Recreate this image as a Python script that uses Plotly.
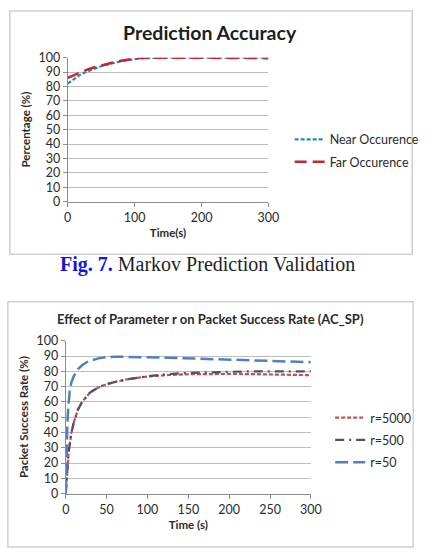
import plotly.graph_objects as go

W, H = 429, 557

# ---- Top chart data ----
time_top = [0, 10, 20, 30, 40, 50, 60, 70, 80, 90, 100, 110, 120, 130, 140, 150,
            175, 200, 225, 250, 275, 300]
near_occ = [82, 85.5, 88.5, 90.5, 92.5, 94, 95.3, 96.5, 97.5, 98.3, 99, 99.5, 99.7, 99.9, 100, 100,
            100, 100, 100, 100, 100, 100]
far_occ = [86, 88, 90, 91.8, 93.3, 94.6, 95.8, 96.9, 97.8, 98.7, 99.4, 99.9, 100, 100, 100, 100,
           100, 100, 100, 100, 100, 99.6]

# ---- Bottom chart data ----
time_bot = [0, 1, 2, 3, 4, 5, 7, 10, 15, 20, 25, 30, 40, 50, 60, 75, 100, 125, 150, 175,
            200, 225, 250, 275, 300]
r5000 = [0, 10, 18, 24, 29, 33, 40, 47, 55, 60, 63.5, 66.3, 69.5, 71.6, 73, 74.8, 76.6,
         77.6, 78.1, 78.3, 78.3, 78.2, 78, 77.8, 77.5]
r500 = [0, 10, 18, 24, 29, 33, 40, 47, 55, 60, 63.5, 66.3, 69.5, 71.6, 73, 74.8, 76.8,
        78.2, 79.0, 79.5, 79.8, 80, 80, 80, 80]
r50 = [0, 28, 45, 56, 63, 68, 73, 77, 81.5, 84, 85.8, 87, 88.5, 89.3, 89.6, 89.6, 89.2,
       88.9, 88.5, 88, 87.5, 87.2, 86.8, 86.4, 86]

y_ticks = list(range(0, 101, 10))
x_ticks_top = [0, 100, 200, 300]
x_ticks_bot = [0, 50, 100, 150, 200, 250, 300]

FONT = "Lato"
GRID = "#BDBDBD"
AXL = "#8C8C8C"


def px(x):
    return x / W


def py(y):
    return 1 - y / H


fig = go.Figure()

fig.add_trace(go.Scatter(x=time_top, y=near_occ, mode="lines", name="Near Occurence",
                         line=dict(color="#2E86C1", width=2.2, dash="4px,2px"),
                         xaxis="x", yaxis="y", legend="legend", legendgroup="near"))
fig.add_trace(go.Scatter(x=time_top, y=far_occ, mode="lines", name="Far Occurence",
                         line=dict(color="#C0282D", width=2.5, dash="12px,6px"),
                         xaxis="x", yaxis="y", legend="legend", legendgroup="far"))

fig.add_trace(go.Scatter(x=time_bot, y=r5000, mode="lines", name="r=5000",
                         line=dict(color="#C0504D", width=2.2, dash="4px,2px"),
                         xaxis="x2", yaxis="y2", legend="legend2", legendgroup="a"))
fig.add_trace(go.Scatter(x=time_bot, y=r500, mode="lines", name="r=500",
                         line=dict(color="#4F4F6E", width=2.2, dash="9px,5px,2px,5px"),
                         xaxis="x2", yaxis="y2", legend="legend2", legendgroup="b"))
fig.add_trace(go.Scatter(x=time_bot, y=r50, mode="lines", name="r=50",
                         line=dict(color="#4F81BD", width=2.5, dash="13px,5px"),
                         xaxis="x2", yaxis="y2", legend="legend2", legendgroup="c"))

tickfont = dict(family=FONT, size=12.5, color="#2A2A2A")
axtitlefont = dict(family=FONT, size=11.5, color="#2A2A2A")


def xaxis(domain, anchor, ticks, title):
    return dict(domain=domain, anchor=anchor, range=[0, 300], tickvals=ticks,
                showgrid=False, showline=True, linecolor=AXL, linewidth=1,
                ticks="outside", ticklen=4, tickcolor=AXL, tickfont=tickfont,
                title=dict(text="<b>" + title + "</b>", font=axtitlefont, standoff=5),
                zeroline=False, fixedrange=True)


def yaxis(domain, anchor, title):
    return dict(domain=domain, anchor=anchor, range=[0, 100], tickvals=y_ticks,
                showgrid=True, gridcolor=GRID, gridwidth=1,
                showline=True, linecolor=AXL, linewidth=1,
                ticks="outside", ticklen=4, tickcolor=AXL, tickfont=tickfont,
                title=dict(text="<b>" + title + "</b>", font=axtitlefont, standoff=5),
                zeroline=False, fixedrange=True)


fig.update_layout(
    width=W, height=H,
    margin=dict(l=0, r=0, t=0, b=0),
    paper_bgcolor="white", plot_bgcolor="white",
    xaxis=xaxis([px(66), px(274)], "y", x_ticks_top, "Time(s)"),
    yaxis=yaxis([py(199), py(51)], "x", "Percentage (%)"),
    xaxis2=xaxis([px(64), px(318)], "y2", x_ticks_bot, "Time (s)"),
    yaxis2=yaxis([py(499), py(342)], "x2", "Packet Success Rate (%)"),
    legend=dict(x=px(296), y=py(120), xanchor="left", yanchor="top",
                font=dict(family=FONT, size=12.5, color="#2A2A2A"),
                bgcolor="rgba(0,0,0,0)", tracegroupgap=3, traceorder="grouped",
                itemwidth=30),
    legend2=dict(x=px(338), y=py(406), xanchor="left", yanchor="top",
                 font=dict(family=FONT, size=12.5, color="#2A2A2A"),
                 bgcolor="rgba(0,0,0,0)", tracegroupgap=3, traceorder="grouped",
                 itemwidth=30),
    showlegend=True,
    shapes=[
        dict(type="rect", xref="paper", yref="paper", x0=px(6), x1=px(423), y0=py(253), y1=py(3),
             line=dict(color="#D0D0D0", width=1.5)),
        dict(type="rect", xref="paper", yref="paper", x0=px(4), x1=px(424), y0=py(554), y1=py(302),
             line=dict(color="#D0D0D0", width=1.5)),
    ],
    annotations=[
        dict(text="<b>Prediction Accuracy</b>", x=px(213), y=py(25), xref="paper", yref="paper",
             showarrow=False, xanchor="center", yanchor="middle",
             font=dict(family=FONT, size=19.5, color="#1E1E1E")),
        dict(text="<b>Effect of Parameter r on Packet Success Rate (AC_SP)</b>",
             x=px(214), y=py(320), xref="paper", yref="paper",
             showarrow=False, xanchor="center", yanchor="middle",
             font=dict(family=FONT, size=13, color="#2A2A2A")),
        dict(text="<b><span style='color:#1515E0'>Fig. 7.</span></b> Markov Prediction Validation",
             x=px(211), y=py(264), xref="paper", yref="paper",
             showarrow=False, xanchor="center", yanchor="middle",
             font=dict(family="Liberation Serif", size=20, color="#1E1E1E")),
    ],
)

fig.write_html("out.html")
